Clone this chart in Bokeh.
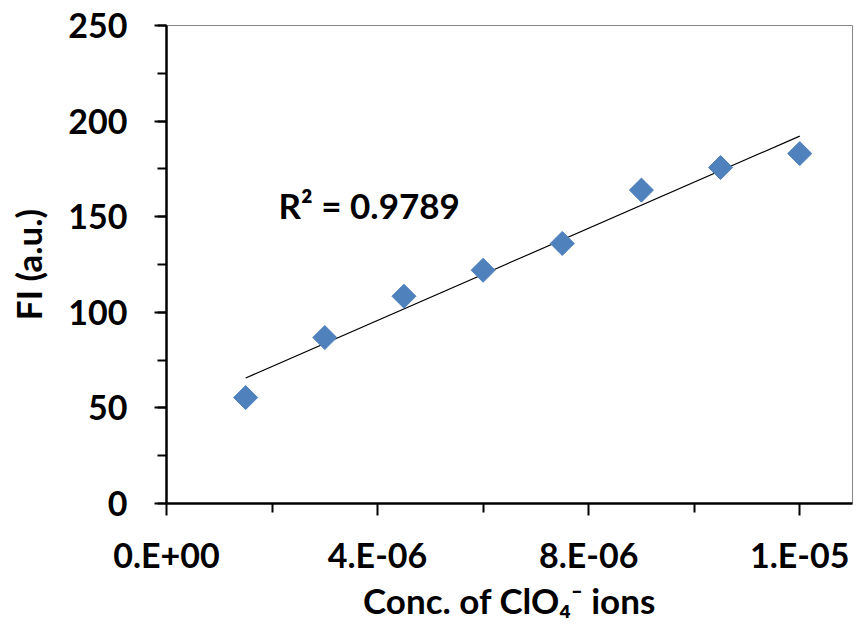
import numpy as np
from bokeh.plotting import figure
from bokeh.models import Range1d, FixedTicker, SingleIntervalTicker, Label, ColumnDataSource
from bokeh.embed import file_html
from bokeh.resources import INLINE

# ---- data ----
conc = [1.5e-6, 3.0e-6, 4.5e-6, 6.0e-6, 7.5e-6, 9.0e-6, 1.05e-5, 1.2e-5]
fi = [55.4, 86.8, 108.4, 122.0, 136.0, 163.9, 175.7, 183.0]

x_major_ticks = [0.0, 4e-6, 8e-6, 1.2e-5]
x_minor_ticks = [2e-6, 6e-6, 1e-5]
x_tick_labels = ["0.E+00", "4.E-06", "8.E-06", "1.E-05"]
r2_text = "R\u00b2 = 0.9789"

FONT = "Lato"

p = figure(width=856, height=624, output_backend="svg", toolbar_location=None,
           x_range=Range1d(0, 1.3e-5), y_range=Range1d(0, 250),
           min_border_left=166, min_border_right=4, min_border_top=25, min_border_bottom=121)

p.background_fill_color = "white"
p.border_fill_color = "white"
p.outline_line_color = "#868686"
p.outline_line_width = 1
p.xgrid.visible = False
p.ygrid.visible = False

# linear trendline from the data
m, b = np.polyfit(np.array(conc), np.array(fi), 1)
tx = np.array([min(conc), max(conc)])
p.line(tx, m * tx + b, line_color="black", line_width=1.2)

src = ColumnDataSource(dict(x=conc, y=fi))
p.scatter("x", "y", source=src, marker="square", angle=np.pi / 4, size=17,
          fill_color="#4F81BD", line_color="#4F81BD")

p.add_layout(Label(x=2.123e-6, y=156.0, text=r2_text, text_font=FONT, text_font_style="bold",
                   text_font_size="35px", text_color="black", text_baseline="alphabetic",
                   text_align="left"))

# x axis
xa = p.xaxis[0]
xa.ticker = FixedTicker(ticks=x_major_ticks, minor_ticks=x_minor_ticks)
xa.major_label_overrides = {t: l for t, l in zip(x_major_ticks, x_tick_labels)}
xa.axis_label = "Conc. of ClO\u2084\u207b ions"

# y axis
ya = p.yaxis[0]
ya.ticker = SingleIntervalTicker(interval=50, num_minor_ticks=2)
ya.axis_label = "FI (a.u.)"

for ax in (xa, ya):
    ax.axis_line_color = "black"
    ax.axis_line_width = 2.5
    ax.major_tick_line_color = "black"
    ax.major_tick_line_width = 2
    ax.minor_tick_line_color = "black"
    ax.minor_tick_line_width = 2
    ax.major_tick_in = 0
    ax.major_tick_out = 12
    ax.minor_tick_in = 0
    ax.minor_tick_out = 9
    ax.major_label_text_font = FONT
    ax.major_label_text_font_style = "bold"
    ax.major_label_text_font_size = "34px"
    ax.major_label_text_color = "black"
    ax.axis_label_text_font = FONT
    ax.axis_label_text_font_style = "bold"
    ax.axis_label_text_font_size = "35px"
    ax.axis_label_text_color = "black"

xa.major_label_standoff = 18
xa.axis_label_standoff = 1
ya.major_label_standoff = 27
ya.axis_label_standoff = 16

open("out.html", "w").write(file_html(p, INLINE))
